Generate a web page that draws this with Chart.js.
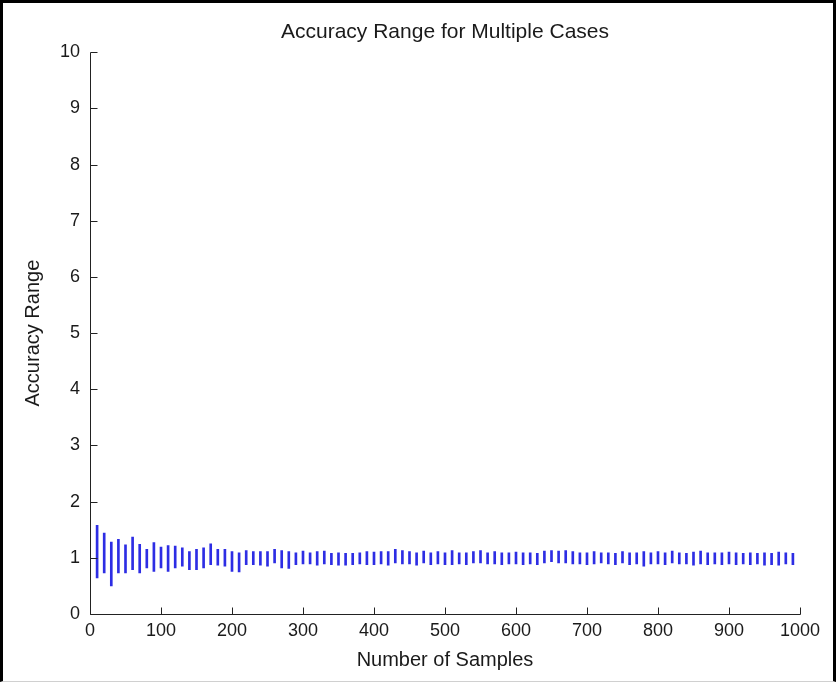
<!DOCTYPE html>
<html><head><meta charset="utf-8">
<script src="https://cdn.jsdelivr.net/npm/chart.js@4.4.1/dist/chart.umd.min.js"></script>
<style>
html,body{margin:0;padding:0;background:#fff;}
#wrap{position:relative;width:836px;height:682px;overflow:hidden;background:#fff;}
#frame{position:absolute;left:0;top:0;width:836px;height:682px;box-sizing:border-box;border-left:3px solid #000;border-top:3px solid #000;border-right:3px solid #000;border-bottom:1px solid #d0d0d0;pointer-events:none;}
canvas{position:absolute;left:0;top:0;}
</style></head><body>
<div id="wrap"><canvas id="c" width="836" height="682"></canvas><div id="frame"></div></div>
<script>
const samples = [10,20,30,40,50,60,70,80,90,100,110,120,130,140,150,160,170,180,190,200,
  210,220,230,240,250,260,270,280,290,300,310,320,330,340,350,360,370,380,390,400,
  410,420,430,440,450,460,470,480,490,500,510,520,530,540,550,560,570,580,590,600,
  610,620,630,640,650,660,670,680,690,700,710,720,730,740,750,760,770,780,790,800,
  810,820,830,840,850,860,870,880,890,900,910,920,930,940,950,960,970,980,990];
const rangeHigh = [1.58,1.44,1.28,1.33,1.23,1.37,1.24,1.15,1.27,1.19,1.22,1.21,1.18,1.11,1.15,1.18,1.25,1.15,1.15,1.11,
  1.09,1.13,1.11,1.11,1.11,1.15,1.13,1.11,1.09,1.12,1.09,1.11,1.12,1.08,1.09,1.08,1.08,1.09,1.11,1.10,
  1.11,1.11,1.15,1.13,1.11,1.09,1.12,1.09,1.11,1.09,1.13,1.09,1.09,1.11,1.13,1.09,1.11,1.09,1.09,1.10,
  1.09,1.09,1.08,1.12,1.13,1.12,1.13,1.11,1.09,1.09,1.11,1.09,1.09,1.08,1.11,1.09,1.09,1.11,1.09,1.11,
  1.09,1.12,1.09,1.08,1.10,1.12,1.09,1.09,1.09,1.10,1.09,1.08,1.09,1.08,1.09,1.08,1.10,1.09,1.08];
const rangeLow = [0.64,0.73,0.50,0.73,0.73,0.79,0.73,0.82,0.76,0.82,0.76,0.82,0.85,0.79,0.79,0.82,0.88,0.87,0.85,0.76,
  0.75,0.88,0.88,0.87,0.85,0.91,0.82,0.81,0.88,0.89,0.89,0.87,0.89,0.88,0.87,0.87,0.88,0.89,0.88,0.88,
  0.89,0.87,0.91,0.89,0.89,0.87,0.91,0.88,0.89,0.88,0.88,0.89,0.88,0.91,0.91,0.89,0.89,0.88,0.89,0.89,
  0.88,0.89,0.88,0.91,0.93,0.91,0.91,0.89,0.89,0.88,0.89,0.91,0.89,0.88,0.91,0.88,0.89,0.85,0.89,0.89,
  0.88,0.91,0.89,0.89,0.87,0.89,0.88,0.89,0.88,0.89,0.88,0.89,0.88,0.89,0.87,0.88,0.87,0.89,0.88];
const xTicks = [0,100,200,300,400,500,600,700,800,900,1000];
const yTicks = [0,1,2,3,4,5,6,7,8,9,10];

const FONT = "'Liberation Sans', Arial, Helvetica, sans-serif";
const TEXT = '#1a1a1a';

const axesPlugin = {
  id: 'matlabAxes',
  afterDatasetsDraw(chart) {
    const ctx = chart.ctx;
    const xs = chart.scales.x, ys = chart.scales.y;
    const L = Math.round(xs.getPixelForValue(0)) + 0.5;
    const R = Math.round(xs.getPixelForValue(1000)) + 0.5;
    const B = Math.round(ys.getPixelForValue(0)) + 0.5;
    const T = Math.round(ys.getPixelForValue(10)) + 0.5;
    ctx.save();
    ctx.strokeStyle = '#222';
    ctx.lineWidth = 1;
    ctx.beginPath();
    ctx.moveTo(L, T); ctx.lineTo(L, B); ctx.lineTo(R, B);
    xTicks.forEach(v => { const p = Math.round(xs.getPixelForValue(v)) + 0.5; ctx.moveTo(p, B); ctx.lineTo(p, B - 7); });
    yTicks.forEach(v => { const p = Math.round(ys.getPixelForValue(v)) + 0.5; ctx.moveTo(L, p); ctx.lineTo(L + 7, p); });
    ctx.stroke();
    ctx.restore();
  }
};

new Chart(document.getElementById('c'), {
  type: 'bar',
  data: {
    datasets: [{
      data: samples.map((s, i) => ({ x: s, y: [rangeLow[i], rangeHigh[i]] })),
      backgroundColor: 'rgb(45,45,228)',
      borderWidth: 0,
      barThickness: 2
    }]
  },
  options: {
    responsive: false,
    animation: false,
    devicePixelRatio: 1,
    layout: { padding: { left: 0, right: 36, top: 0, bottom: 0 } },
    plugins: {
      legend: { display: false },
      tooltip: { enabled: false },
      title: {
        display: true, fullSize: false,
        text: 'Accuracy Range for Multiple Cases',
        color: TEXT,
        font: { family: FONT, size: 21, weight: 'normal', lineHeight: 1.2 },
        padding: { top: 20, bottom: 7 }
      }
    },
    scales: {
      x: {
        type: 'linear', min: 0, max: 1000, offset: false,
        grid: { display: false, drawTicks: false, offset: false },
        border: { display: false },
        afterBuildTicks(s) { s.ticks = xTicks.map(v => ({ value: v })); },
        ticks: { color: TEXT, font: { family: FONT, size: 18 }, padding: 6, maxRotation: 0, autoSkip: false, callback: v => String(v) },
        title: { display: true, text: 'Number of Samples', color: TEXT, font: { family: FONT, size: 20 }, padding: { top: 0, bottom: 10 } },
        afterFit(s) { s.height = 68; }
      },
      y: {
        type: 'linear', min: 0, max: 10,
        grid: { display: false, drawTicks: false },
        border: { display: false },
        afterBuildTicks(s) { s.ticks = yTicks.map(v => ({ value: v })); },
        ticks: { color: TEXT, font: { family: FONT, size: 18 }, padding: 10, autoSkip: false, callback: v => String(v) },
        title: { display: true, text: 'Accuracy Range', color: TEXT, font: { family: FONT, size: 20 }, padding: { top: 21, bottom: 0 } },
        afterFit(s) { s.width = 90; }
      }
    }
  },
  plugins: [axesPlugin]
});
</script>
</body></html>
